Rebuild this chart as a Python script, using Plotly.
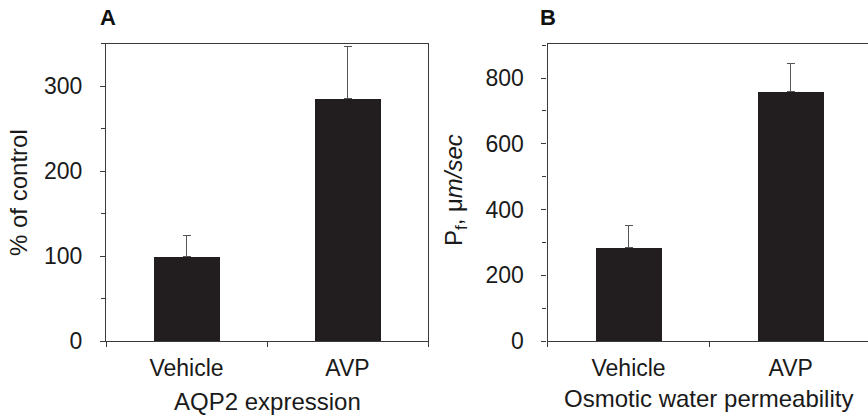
import plotly.graph_objects as go

categories = ["Vehicle", "AVP"]
aqp2_values = [100, 285]
aqp2_errors = [24, 62]
pf_values = [285, 759]
pf_errors = [65, 85]

W, H = 868, 417
FONT = "Liberation Sans, Arial, Helvetica, sans-serif"
BAR = "#221e1f"
AX = "#3a3a3a"

fig = go.Figure()
fig.add_trace(go.Bar(
    x=categories, y=aqp2_values, width=0.41, marker=dict(color=BAR, line=dict(width=0)),
    error_y=dict(type="data", symmetric=False, array=aqp2_errors, arrayminus=[0, 0],
                 color="#555555", thickness=1, width=4),
    xaxis="x", yaxis="y", showlegend=False))
fig.add_trace(go.Bar(
    x=categories, y=pf_values, width=0.41, marker=dict(color=BAR, line=dict(width=0)),
    error_y=dict(type="data", symmetric=False, array=pf_errors, arrayminus=[0, 0],
                 color="#555555", thickness=1, width=4),
    xaxis="x2", yaxis="y2", showlegend=False))

y0 = (H - 341) / H
y1 = (H - 43.5) / H
tickfont = dict(family=FONT, size=23, color="#1a1a1a")

common_x = dict(type="category", showline=True, linecolor=AX, linewidth=1.2, mirror=True,
                ticks="outside", ticklen=5, tickcolor=AX, tickson="boundaries",
                showgrid=False, zeroline=False, tickfont=tickfont, ticklabelstandoff=6,
                fixedrange=True, automargin=False)
common_y = dict(showline=True, linecolor=AX, linewidth=1.2, ticks="outside", ticklen=5,
                tickcolor=AX, showgrid=False, zeroline=False, tickfont=tickfont,
                ticklabelstandoff=13, fixedrange=True, automargin=False)

fig.update_layout(
    width=W, height=H,
    margin=dict(l=0, r=0, t=0, b=0),
    paper_bgcolor="white", plot_bgcolor="white",
    font=dict(family=FONT, color="#1a1a1a"),
    bargap=0,
    xaxis=dict(domain=[106 / W, 428 / W], range=[-0.5, 1.5], anchor="y", **common_x),
    yaxis=dict(domain=[y0, y1], range=[0, 350], anchor="x", mirror=True,
               tickvals=[0, 100, 200, 300],
               minor=dict(dtick=50, ticks="outside", ticklen=4, tickcolor=AX),
               **common_y),
    xaxis2=dict(domain=[547.5 / W, 1.0], range=[-0.5, 1.477], anchor="y2", **common_x),
    yaxis2=dict(domain=[y0, y1], range=[0, 905], anchor="x2", mirror=False,
                tickvals=[0, 200, 400, 600, 800],
                minor=dict(dtick=100, ticks="outside", ticklen=4, tickcolor=AX),
                **common_y),
)

ann_font = dict(family=FONT, size=24, color="#1a1a1a")
fig.add_annotation(text="<b>A</b>", x=107.5 / W, y=(H - 18) / H, xref="paper", yref="paper",
                   showarrow=False, xanchor="center", yanchor="middle",
                   font=dict(family=FONT, size=22, color="#111"))
fig.add_annotation(text="<b>B</b>", x=548 / W, y=(H - 18) / H, xref="paper", yref="paper",
                   showarrow=False, xanchor="center", yanchor="middle",
                   font=dict(family=FONT, size=22, color="#111"))
fig.add_annotation(text="% of control", x=18 / W, y=(H - 193) / H, xref="paper", yref="paper",
                   showarrow=False, textangle=-90, xanchor="center", yanchor="middle",
                   font=ann_font)
fig.add_annotation(text="P<sub>f</sub>, μ<i>m/sec</i>", x=455 / W, y=(H - 190) / H,
                   xref="paper", yref="paper", showarrow=False, textangle=-90,
                   xanchor="center", yanchor="middle", font=ann_font)
fig.add_annotation(text="AQP2 expression", x=267 / W, y=(H - 401) / H, xref="paper",
                   yref="paper", showarrow=False, xanchor="center", yanchor="middle",
                   font=ann_font)
fig.add_annotation(text="Osmotic water permeability", x=708 / W, y=(H - 398) / H,
                   xref="paper", yref="paper", showarrow=False, xanchor="center",
                   yanchor="middle", font=ann_font)

fig.write_html(
    "out.html",
    config={"displayModeBar": False, "responsive": False},
    post_script=(
        "var s=document.createElement('style');"
        "s.textContent='html,body{margin:0;padding:0;overflow:hidden;height:417px;}';"
        "document.head.appendChild(s);"
    ),
)
